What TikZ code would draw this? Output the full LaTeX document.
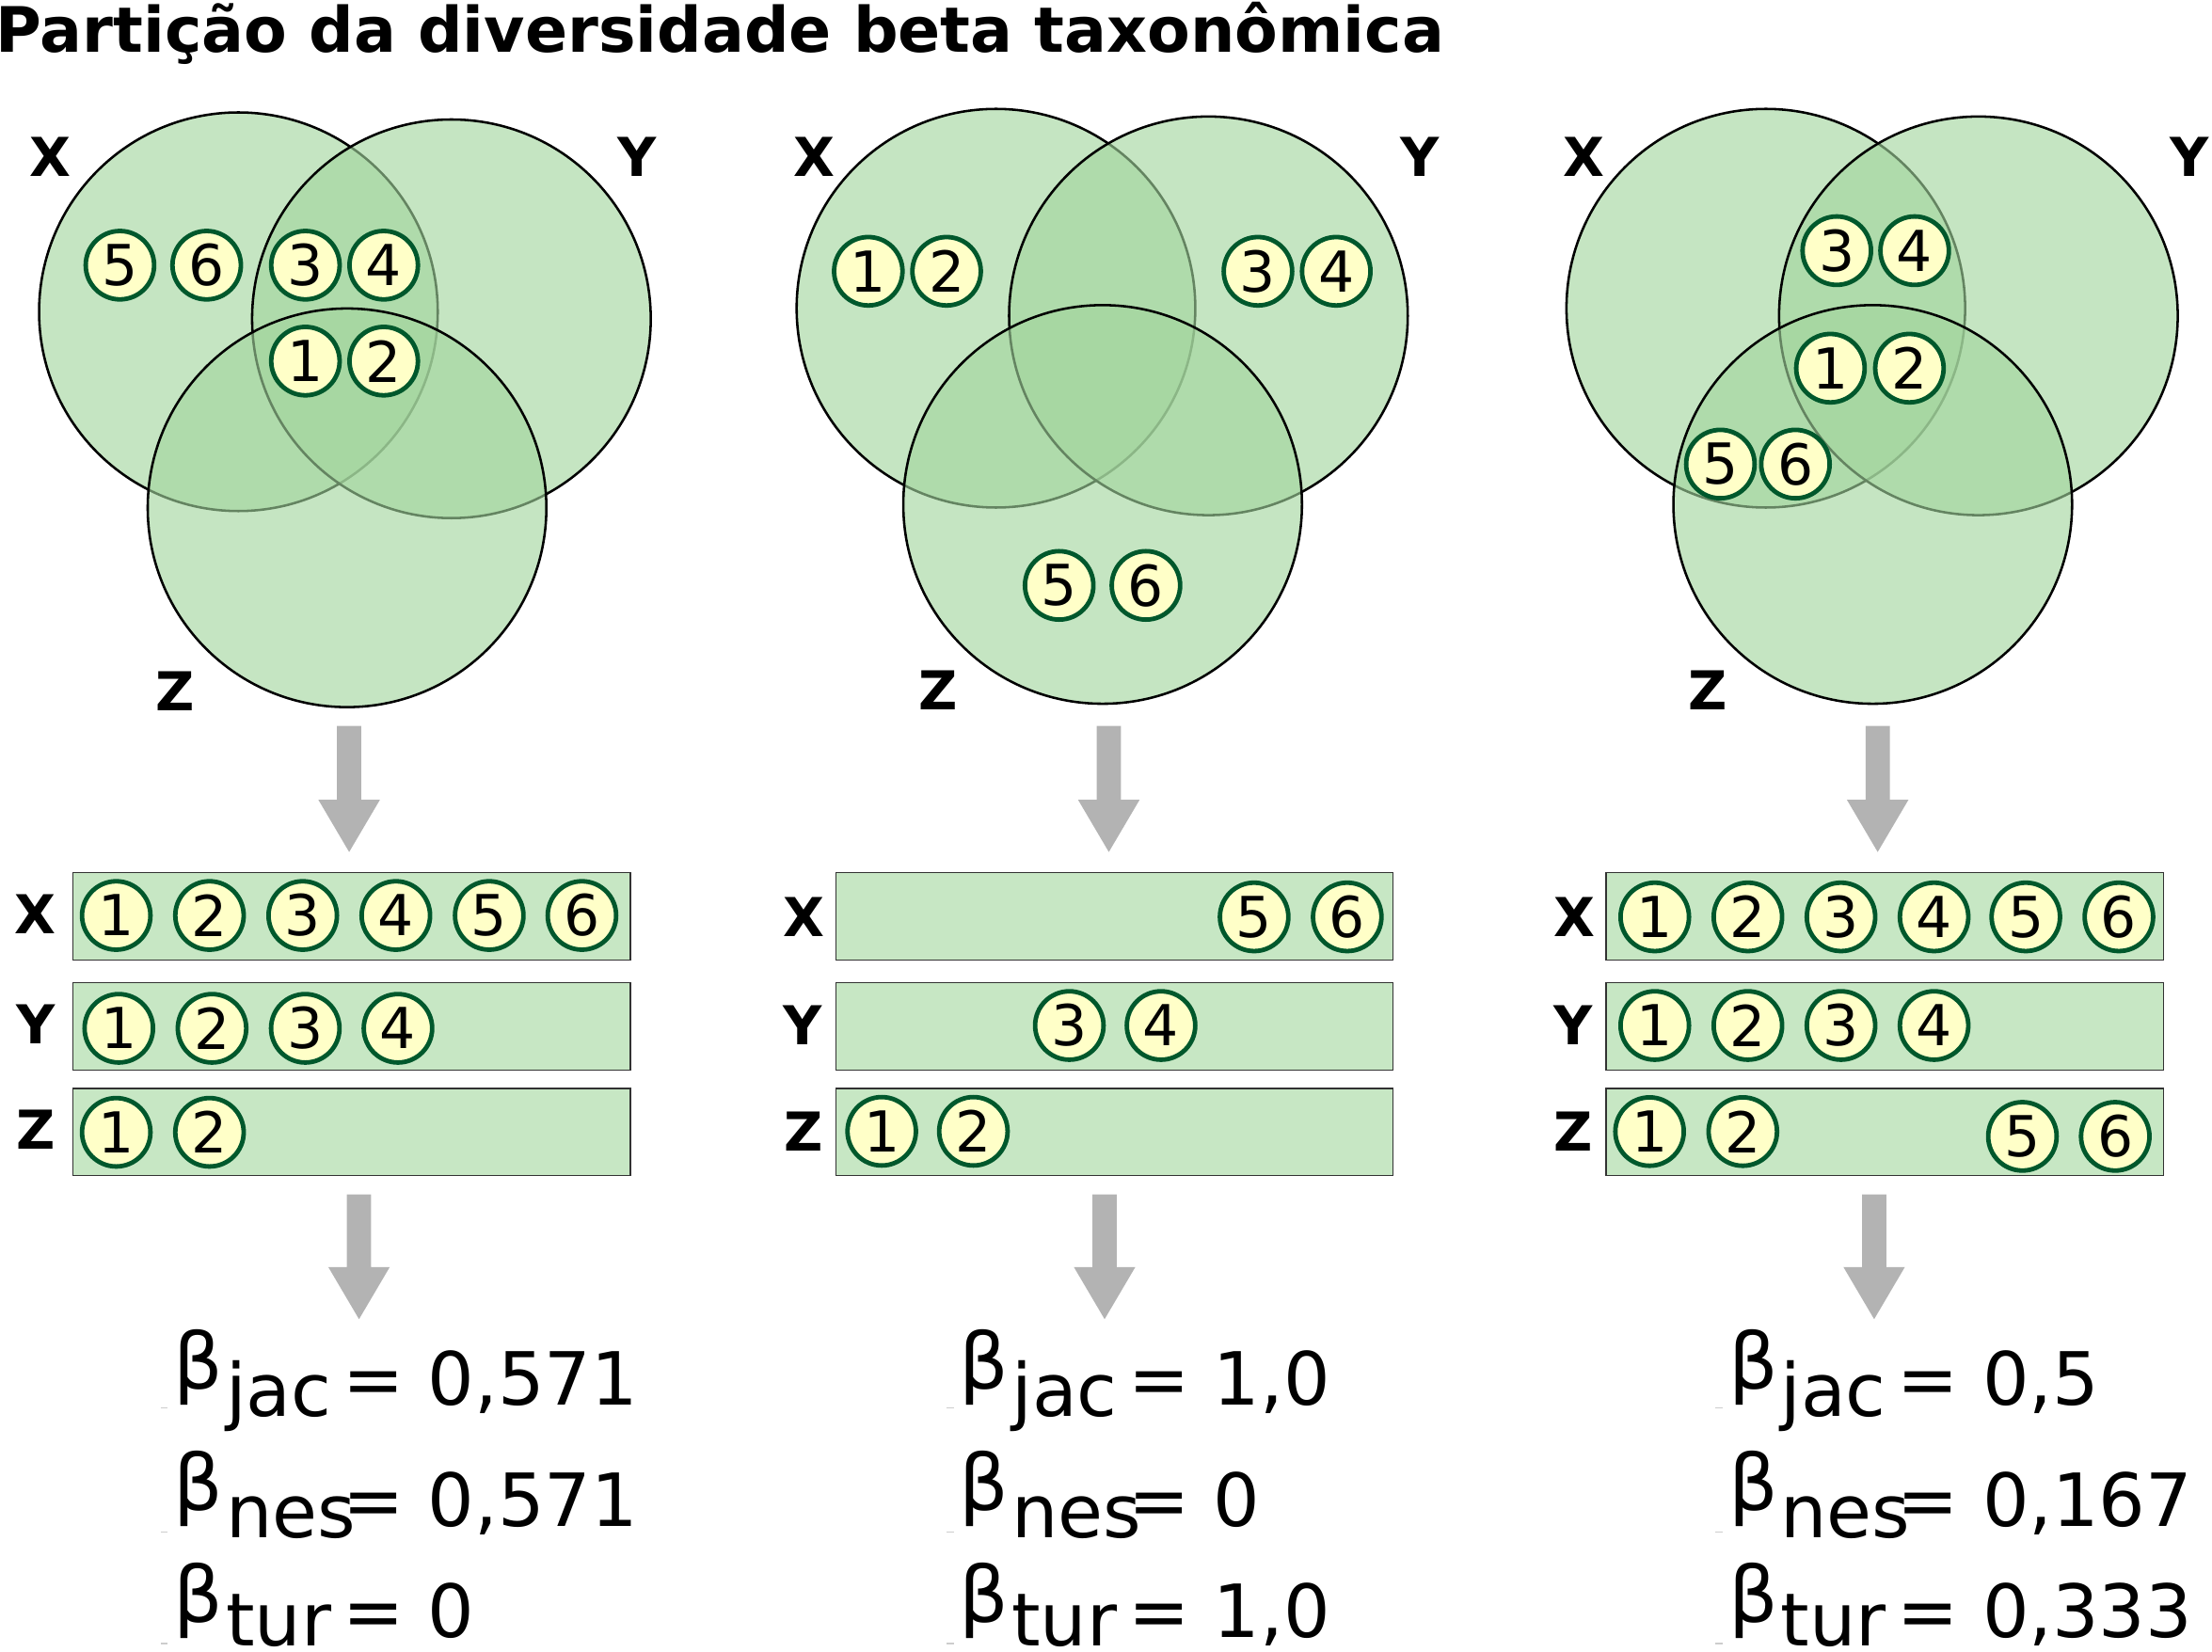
\documentclass[tikz,border=0pt]{standalone}
\usepackage{fontspec}
\setmainfont{DejaVu Sans}
\definecolor{vennC}{RGB}{163,214,158}
\definecolor{barC}{RGB}{199,231,196}
\definecolor{spY}{RGB}{255,255,200}
\definecolor{spG}{RGB}{0,88,44}
\definecolor{arrG}{RGB}{179,179,179}
\definecolor{tickG}{RGB}{205,205,205}
\definecolor{barB}{RGB}{50,50,50}
\newcommand\bigarr[3]{\fill[bigarrow, shift={(#1,#2)}] (-8.6,0) -- (8.6,0) -- (8.6,#3-37) -- (21.8,#3-37) -- (0,#3) -- (-21.8,#3-37) -- (-8.6,#3-37) -- cycle;}
\newcommand\betablock[5]{%
\begin{scope}[shift={(#1,0)}]
\coordinate (t1a#2) at (114,998); \coordinate (t1b#2) at (119,998);
\draw[tickmark] (t1a#2) -- (t1b#2);
\node[bsym] (ba#2) at (123,985) {β};
\node[btxt] (sa#2) at (160,1004) {jac};
\node[btxt] (va#2) at (243,996) {= #3};
\coordinate (t2a#2) at (114,1086); \coordinate (t2b#2) at (119,1086);
\draw[tickmark] (t2a#2) -- (t2b#2);
\node[bsym] (bb#2) at (123,1071) {β};
\node[btxt] (sb#2) at (160,1090) {nes};
\node[btxt] (vb#2) at (243,1082) {= #4};
\coordinate (t3a#2) at (114,1165); \coordinate (t3b#2) at (119,1165);
\draw[tickmark] (t3a#2) -- (t3b#2);
\node[bsym] (bc#2) at (123,1150) {β};
\node[btxt] (sc#2) at (160,1166.5) {tur};
\node[btxt] (vc#2) at (243,1161) {= #5};
\end{scope}}
\begin{document}
\begin{tikzpicture}[x=1bp,y=-1bp,
  venn/.style={fill=vennC, fill opacity=0.62, draw=black, line width=1.7bp},
  sp/.style={circle, draw=spG, fill=spY, line width=3.2bp, minimum size=48.5bp, inner sep=0pt, font=\fontsize{40bp}{42bp}\selectfont},
  lab/.style={font=\fontsize{38bp}{40bp}\selectfont\bfseries, inner sep=0pt},
  bar/.style={draw=barB, fill=barC, line width=1bp, minimum width=395bp, minimum height=62bp, anchor=north west, inner sep=0pt},
  bigarrow/.style={fill=arrG},
  btxt/.style={font=\fontsize{52bp}{56bp}\selectfont, inner sep=0pt, anchor=base west},
  bsym/.style={font=\fontsize{55bp}{58bp}\selectfont, inner sep=0pt, anchor=base west},
  tickmark/.style={draw=tickG, line width=1bp},
]
\useasboundingbox (0,0) rectangle (1568,1171);
\fill[white] (0,0) rectangle (1568,1171);

\node[font=\fontsize{44.4bp}{48bp}\selectfont\bfseries, inner sep=0pt, anchor=base west] (title) at (-3,37) {Partição da diversidade beta taxonômica};

% ---- Venn 1
\filldraw[venn] (169,221) circle [radius=141.3bp];
\filldraw[venn] (320,226) circle [radius=141.3bp];
\filldraw[venn] (246,360) circle [radius=141.3bp];
\node[lab] (v1x) at (35.7,111.3) {X};
\node[lab] (v1y) at (451.7,111.3) {Y};
\node[lab] (v1z) at (124.1,490) {Z};
\foreach \n/\px/\py in {5/85/188, 6/146.5/188, 3/216.5/188, 4/272/188, 1/216.5/256, 2/272/256}
  \node[sp] (v1s\n) at (\px,\py) {\n};

% ---- Venn 2
\filldraw[venn] (706,218.5) circle [radius=141.3bp];
\filldraw[venn] (856.6,223.9) circle [radius=141.3bp];
\filldraw[venn] (781.6,357.6) circle [radius=141.3bp];
\node[lab] (v2x) at (577.3,111.3) {X};
\node[lab] (v2y) at (1006.8,111.3) {Y};
\node[lab] (v2z) at (665,489.3) {Z};
\foreach \n/\px/\py in {1/615.5/192.3, 2/671/192.3, 3/891.7/192.3, 4/947.2/192.3, 5/750.8/415, 6/812.3/415}
  \node[sp] (v2s\n) at (\px,\py) {\n};

% ---- Venn 3
\filldraw[venn] (1251.7,218.5) circle [radius=141.3bp];
\filldraw[venn] (1402.4,223.9) circle [radius=141.3bp];
\filldraw[venn] (1327.5,357.6) circle [radius=141.3bp];
\node[lab] (v3x) at (1122.9,111.3) {X};
\node[lab] (v3y) at (1552.3,111.3) {Y};
\node[lab] (v3z) at (1210.5,489.3) {Z};
\foreach \n/\px/\py in {3/1302/177.7, 4/1357.2/177.7, 1/1297.5/261, 2/1353.5/261, 5/1219.5/329, 6/1272.7/329}
  \node[sp] (v3s\n) at (\px,\py) {\n};

% ---- arrows
\bigarr{247.5}{514.7}{89.3}
\bigarr{786}{514.7}{89.3}
\bigarr{1331}{514.7}{89.3}
\bigarr{254.5}{846.7}{88.5}
\bigarr{783}{846.7}{88.5}
\bigarr{1328.5}{846.7}{88.5}

% ---- bars set 1
\node[bar] (b1x) at (51.2,618) {};
\node[bar] (b1y) at (51.2,696) {};
\node[bar] (b1z) at (51.2,771) {};
\node[lab] (l1x) at (25.3,648.4) {X};
\node[lab] (l1y) at (25.3,726) {Y};
\node[lab] (l1z) at (25.3,801) {Z};
\foreach \n/\px in {1/82.4, 2/148.5, 3/214.6, 4/280.6, 5/346.8, 6/412.5}
  \node[sp] (b1xs\n) at (\px,649) {\n};
\foreach \n/\px in {1/84.2, 2/150.3, 3/216.4, 4/282.1}
  \node[sp] (b1ys\n) at (\px,729) {\n};
\foreach \n/\px in {1/82.4, 2/148.5}
  \node[sp] (b1zs\n) at (\px,802.7) {\n};

% ---- bars set 2
\node[bar] (b2x) at (592,618) {};
\node[bar] (b2y) at (592,696) {};
\node[bar] (b2z) at (592,771) {};
\node[lab] (l2x) at (570,650) {X};
\node[lab] (l2y) at (569,727) {Y};
\node[lab] (l2z) at (570,802) {Z};
\foreach \n/\px in {5/889, 6/955}
  \node[sp] (b2xs\n) at (\px,650) {\n};
\foreach \n/\px in {3/758, 4/823}
  \node[sp] (b2ys\n) at (\px,727) {\n};
\foreach \n/\px in {1/625, 2/690}
  \node[sp] (b2zs\n) at (\px,802) {\n};

% ---- bars set 3
\node[bar] (b3x) at (1138,618) {};
\node[bar] (b3y) at (1138,696) {};
\node[bar] (b3z) at (1138,771) {};
\node[lab] (l3x) at (1116,650) {X};
\node[lab] (l3y) at (1115,727) {Y};
\node[lab] (l3z) at (1115,802) {Z};
\foreach \n/\px in {1/1173, 2/1239, 3/1305, 4/1371, 5/1436, 6/1502}
  \node[sp] (b3xs\n) at (\px,650) {\n};
\foreach \n/\px in {1/1173, 2/1239, 3/1305, 4/1371}
  \node[sp] (b3ys\n) at (\px,727) {\n};
\foreach \n/\px/\py in {1/1169.3/802.2, 2/1235.4/802.2, 5/1433.6/805.6, 6/1499.4/805.6}
  \node[sp] (b3zs\n) at (\px,\py) {\n};

% ---- beta values
\betablock{0}{A}{0,571}{0,571}{0}
\betablock{557}{B}{1,0}{0}{1,0}
\betablock{1102}{C}{0,5}{0,167}{0,333}
\end{tikzpicture}
\end{document}
